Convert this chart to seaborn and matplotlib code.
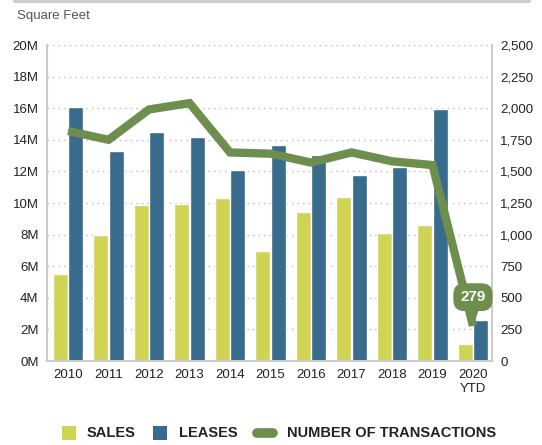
import numpy as np
import pandas as pd
import matplotlib
matplotlib.use('Agg')
import matplotlib.pyplot as plt
import seaborn as sns
from matplotlib.lines import Line2D
from matplotlib.patches import Rectangle
from matplotlib.ticker import FuncFormatter

# chart data
years = ['2010', '2011', '2012', '2013', '2014', '2015', '2016', '2017', '2018', '2019', '2020\nYTD']
sales = [5.5, 7.95, 9.85, 9.95, 10.3, 6.95, 9.4, 10.35, 8.1, 8.6, 1.05]
leases = [16.1, 13.3, 14.5, 14.2, 12.1, 13.65, 13.05, 11.75, 12.3, 15.95, 2.6]
transactions = [1820, 1750, 1990, 2040, 1650, 1640, 1570, 1650, 1580, 1550, 279]
legend_labels = ['SALES', 'LEASES', 'NUMBER OF TRANSACTIONS']

SALES_C = '#d0d455'
LEASE_C = '#386b8c'
LINE_C = '#6e8e4e'
TEXT_C = '#222222'

W, H = 542, 445


def fx(px):
    return px / W


def fy(py):
    return 1 - py / H


def main():
    sns.set_style('white')
    plt.rcParams['font.family'] = ['Liberation Sans', 'DejaVu Sans']

    df = pd.DataFrame({'year': years * 2,
                       'value': sales + leases,
                       'type': ['SALES'] * len(years) + ['LEASES'] * len(years)})

    fig = plt.figure(figsize=(W / 100, H / 100), dpi=100)
    ax = fig.add_axes([fx(47), fy(361), fx(492) - fx(47), fy(45) - fy(361)])

    sns.barplot(data=df, x='year', y='value', hue='type', order=years,
                palette={'SALES': SALES_C, 'LEASES': LEASE_C},
                width=0.78, gap=0.05, saturation=1, ax=ax, legend=False)

    ax.set_xlim(-0.52, 10.47)
    ax.set_ylim(0, 20)
    ax.set_yticks(np.arange(0, 21, 2))
    ax.yaxis.set_major_formatter(FuncFormatter(lambda v, p: f'{int(v)}M'))
    ax.grid(axis='y', color='#bbbbbb', linestyle=(0, (1, 3)), linewidth=1)
    ax.set_axisbelow(True)
    ax.set_xlabel('')
    ax.set_ylabel('')
    ax.tick_params(axis='both', length=0, labelsize=9.5, colors=TEXT_C, pad=6)
    ax.spines['top'].set_visible(False)
    for s in ['left', 'bottom', 'right']:
        ax.spines[s].set_color('#cccccc')
        ax.spines[s].set_linewidth(1.5)

    # transactions line on secondary axis
    ax2 = ax.twinx()
    ax2.plot(np.arange(len(years)), transactions, color=LINE_C, linewidth=6,
             solid_joinstyle='miter', solid_capstyle='butt')
    ax2.set_ylim(0, 2500)
    ax2.set_yticks(np.arange(0, 2501, 250))
    ax2.yaxis.set_major_formatter(FuncFormatter(lambda v, p: f'{int(v):,}'))
    ax2.tick_params(axis='y', length=0, labelsize=9.5, colors=TEXT_C, pad=6)
    for s in ['top', 'left', 'bottom', 'right']:
        ax2.spines[s].set_visible(False)

    # callout for latest value
    ax2.annotate(f'{transactions[-1]}', xy=(10, transactions[-1]), xytext=(10, 505),
                 ha='center', va='center', color='white', fontsize=11, fontweight='bold',
                 bbox=dict(boxstyle='round,pad=0.45,rounding_size=0.7', fc=LINE_C, ec='none'),
                 arrowprops=dict(arrowstyle='wedge,tail_width=0.6', color=LINE_C,
                                 shrinkA=0, shrinkB=0))

    fig.text(fx(17), fy(16), 'Square Feet', fontsize=9.5, color='#555555', ha='left', va='center')

    # top rule
    fig.add_artist(Line2D([fx(15), fx(529)], [fy(1), fy(1)], color='#cccccc', linewidth=3))

    # legend drawn by hand
    ly = fy(433)
    sq = 14
    for x0, c in [(62, SALES_C), (153, LEASE_C)]:
        fig.add_artist(Rectangle((fx(x0), fy(433 + sq / 2)), fx(sq), sq / H,
                                 facecolor=c, edgecolor='none'))
    fig.add_artist(Line2D([fx(257), fx(273)], [ly, ly], color=LINE_C, linewidth=7,
                          solid_capstyle='round'))
    for x0, lab in zip([87, 179, 287], legend_labels):
        fig.text(fx(x0), ly, lab, fontsize=10.5, fontweight='bold', color=TEXT_C,
                 ha='left', va='center')

    fig.savefig('out.png', dpi=100)


if __name__ == '__main__':
    main()
